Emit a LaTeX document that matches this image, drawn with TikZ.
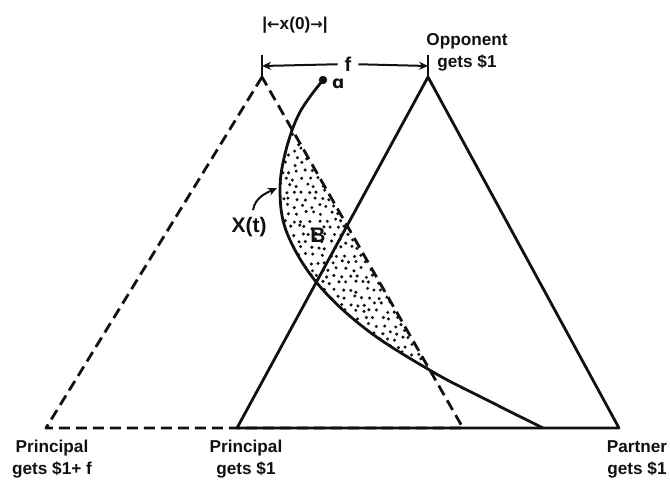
\documentclass[tikz,border=0pt]{standalone}
\usepackage{fontspec}
\setmainfont{Liberation Sans}
\newfontfamily\dejavu{DejaVu Sans}
\usetikzlibrary{arrows.meta,positioning}
\definecolor{inkmain}{HTML}{111111}
\tikzset{every node/.append style={font=\bfseries\fontsize{8.6}{11}\selectfont,text=inkmain}}
\tikzset{
  side/.style={draw=inkmain,line width=1.4pt,line join=round},
  dashside/.style={side,dash pattern=on 5.5pt off 3pt},
  cornerlabel/.style={align=center,inner sep=0pt},
  curvelabel/.style={font=\bfseries\fontsize{10.5}{12}\selectfont},
}

\begin{document}
\begin{tikzpicture}[x=0.5pt,y=-0.5pt,>={Stealth[length=4.5pt,width=4pt]}]
  \useasboundingbox (0,0) rectangle (670,487);
  % corners of the two simplices
  \coordinate (sA) at (428,77);
  \coordinate (sL) at (237,428);
  \coordinate (sR) at (619,428);
  \coordinate (dA) at (262,77);
  \coordinate (dL) at (46,428);
  \coordinate (dR) at (463,428);
  \coordinate (tkL) at (262,55);
  \coordinate (tkR) at (428,55);
  \coordinate (arL) at (262,66);
  \coordinate (arR) at (428,66);
  \coordinate (a0) at (323,80);
  \coordinate (xtip) at (277,188);
  \def\xtcurve{(323,80) (300,112) (286,150) (280,190) (287,233) (317,283)
    (367,330) (433,372) (487,400) (543,428)}

  % stippled region B
  \begin{scope}
    \clip plot[smooth,tension=0.6] coordinates {\xtcurve} -- cycle;
    \clip (dA) -- (dL) -- (dR) -- cycle;
    \pgfmathsetseed{11}
    \foreach \j [count=\r] in {122,129,...,385}
      \foreach \i in {266,274,...,445} {
        \pgfmathsetmacro\px{\i+4*mod(\r,2)+2.2*rand}
        \pgfmathsetmacro\py{\j+2.2*rand}
        \fill[inkmain] (\px,\py) circle (0.85pt);
      }
  \end{scope}

  \draw[dashside] (dA) -- (dL) -- (dR) -- cycle;
  \draw[side] (sA) -- (sL) -- (sR) -- cycle;
  \draw[side] plot[smooth,tension=0.6] coordinates {\xtcurve};
  \fill[inkmain] (a0) circle (2.1pt);

  % f between the apexes
  \draw[inkmain,line width=1pt] (tkL) -- (dA);
  \draw[inkmain,line width=1pt] (tkR) -- (sA);
  \node (flabel) at (348,64) {\fontsize{10}{12}\selectfont f};
  \draw[->,inkmain,line width=1pt] (flabel) -- (arL);
  \draw[->,inkmain,line width=1pt] (flabel) -- (arR);
  \node (xzero) at (295,25) {|{\dejavu\fontsize{7.5}{8}\selectfont ←}x(0){\dejavu\fontsize{7.5}{8}\selectfont →}|};

  \node[right=1pt of a0,yshift=-2pt] (alabel) {{\dejavu\bfseries ɑ}};
  \node[curvelabel] (Blabel) at (318,235) {B};
  \node[curvelabel] (Xlabel) at (249,227) {X(t)};
  \draw[->,inkmain,line width=1pt] ([xshift=2pt]Xlabel.north) to[out=80,in=205] (xtip);

  % corner labels
  \node[cornerlabel] (opponent) at (467,52) {Opponent\\gets \$1};
  \node[cornerlabel] (prinf) at (52,459) {Principal\\gets \$1+ f};
  \node[cornerlabel] (prinone) at (246,459) {Principal\\gets \$1};
  \node[cornerlabel] (partner) at (637,459) {Partner\\gets \$1};
\end{tikzpicture}
\end{document}
